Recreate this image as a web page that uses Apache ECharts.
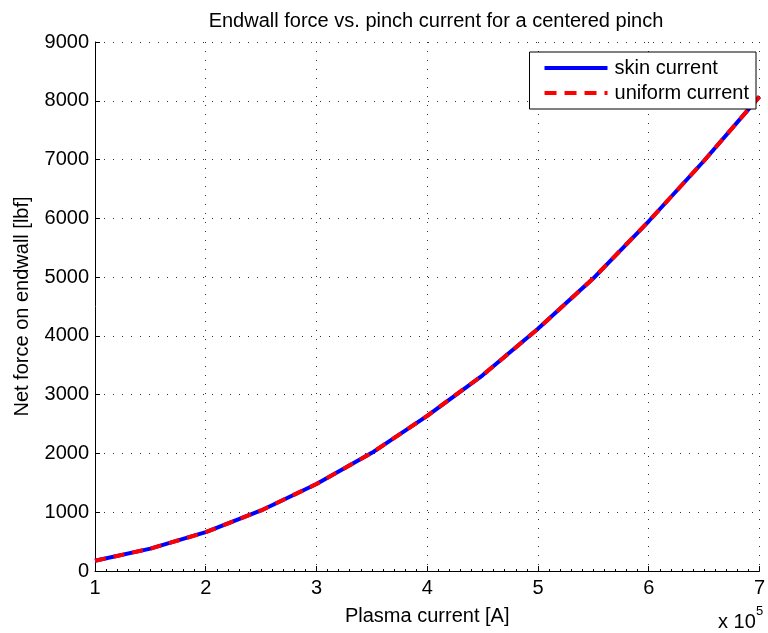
<!DOCTYPE html>
<html>
<head>
<meta charset="utf-8">
<script src="https://cdn.jsdelivr.net/npm/echarts@6/dist/echarts.min.js"></script>
<style>
  html, body { margin: 0; padding: 0; background: #fff; }
  #chart { width: 768px; height: 633px; }
</style>
</head>
<body>
<div id="chart"></div>
<script>
// Plasma current [A]
const plasmaCurrent = [100000, 150000, 200000, 250000, 300000, 350000, 400000,
                       450000, 500000, 550000, 600000, 650000, 700000];
// Net force on endwall [lbf], skin-current model
const skinForce = [175, 380, 660, 1030, 1480, 2010, 2640, 3330, 4120, 4980, 5950, 6980, 8070];
// Net force on endwall [lbf], uniform-current model
const uniformForce = [175, 380, 660, 1030, 1480, 2010, 2640, 3330, 4120, 4980, 5950, 6980, 8070];

const FONT = 'Liberation Sans, Arial, Helvetica, sans-serif';

const pairs = (xs, ys) => xs.map((x, i) => [x, ys[i]]);

const chart = echarts.init(document.getElementById('chart'), null, { renderer: 'canvas' });

const gridDots = { show: true, lineStyle: { color: '#333', width: 1, type: [1, 8] } };

chart.setOption({
  backgroundColor: '#fff',
  animation: false,
  textStyle: { fontFamily: FONT, color: '#000' },
  title: {
    text: 'Endwall force vs. pinch current for a centered pinch',
    left: 431, top: 6, textAlign: 'center',
    textStyle: { fontFamily: FONT, fontWeight: 'normal', fontSize: 20, color: '#000' }
  },
  grid: { left: 95, right: 4, top: 42, bottom: 62, containLabel: false },
  legend: {
    orient: 'vertical',
    right: 12, top: 52,
    backgroundColor: '#fff',
    borderColor: '#000', borderWidth: 1,
    padding: [6, 7, 6, 13],
    itemGap: 5,
    itemWidth: 63, itemHeight: 14,
    itemStyle: { opacity: 0 },
    textStyle: { fontFamily: FONT, fontSize: 20, color: '#000', padding: [0, 0, 0, 2] },
    data: [
      { name: 'skin current', lineStyle: { width: 4, color: '#0000ff', type: 'solid' } },
      { name: 'uniform current', lineStyle: { width: 4, color: '#ff0000', type: [12, 8] } }
    ]
  },
  xAxis: {
    type: 'value',
    min: 100000, max: 700000, interval: 100000,
    name: 'Plasma current [A]',
    nameLocation: 'middle', nameGap: 35,
    nameTextStyle: { fontFamily: FONT, fontSize: 20, color: '#000' },
    axisLine: { show: true, onZero: false, lineStyle: { color: '#000', width: 1 } },
    axisTick: { show: true, inside: true, length: 5, lineStyle: { color: '#000' } },
    minorTick: { show: true, splitNumber: 10, length: 2, lineStyle: { color: '#000' } },
    axisLabel: {
      fontFamily: FONT, fontSize: 20, color: '#000', margin: 7,
      formatter: v => String(Math.round(v / 100000))
    },
    splitLine: gridDots
  },
  yAxis: {
    type: 'value',
    min: 0, max: 9000, interval: 1000,
    name: 'Net force on endwall [lbf]',
    nameLocation: 'middle', nameGap: 63,
    nameTextStyle: { fontFamily: FONT, fontSize: 20, color: '#000' },
    axisLine: { show: true, lineStyle: { color: '#000', width: 1 } },
    axisTick: { show: true, inside: true, length: 5, lineStyle: { color: '#000' } },
    axisLabel: {
      fontFamily: FONT, fontSize: 20, color: '#000', margin: 6,
      formatter: v => String(v)
    },
    splitLine: gridDots
  },
  graphic: [
    {
      type: 'text', left: 718, top: 612,
      style: { text: 'x 10', font: '20px ' + FONT, fill: '#000' }
    },
    {
      type: 'text', left: 756, top: 605,
      style: { text: '5', font: '13px ' + FONT, fill: '#000' }
    }
  ],
  series: [
    {
      name: 'skin current',
      type: 'line',
      data: pairs(plasmaCurrent, skinForce),
      symbol: 'none',
      lineStyle: { color: '#0000ff', width: 4, type: 'solid' },
      itemStyle: { color: '#0000ff' },
      z: 2
    },
    {
      name: 'uniform current',
      type: 'line',
      data: pairs(plasmaCurrent, uniformForce),
      symbol: 'none',
      lineStyle: { color: '#ff0000', width: 4, type: [11, 8] },
      itemStyle: { color: '#ff0000' },
      z: 3
    }
  ]
});
</script>
</body>
</html>
